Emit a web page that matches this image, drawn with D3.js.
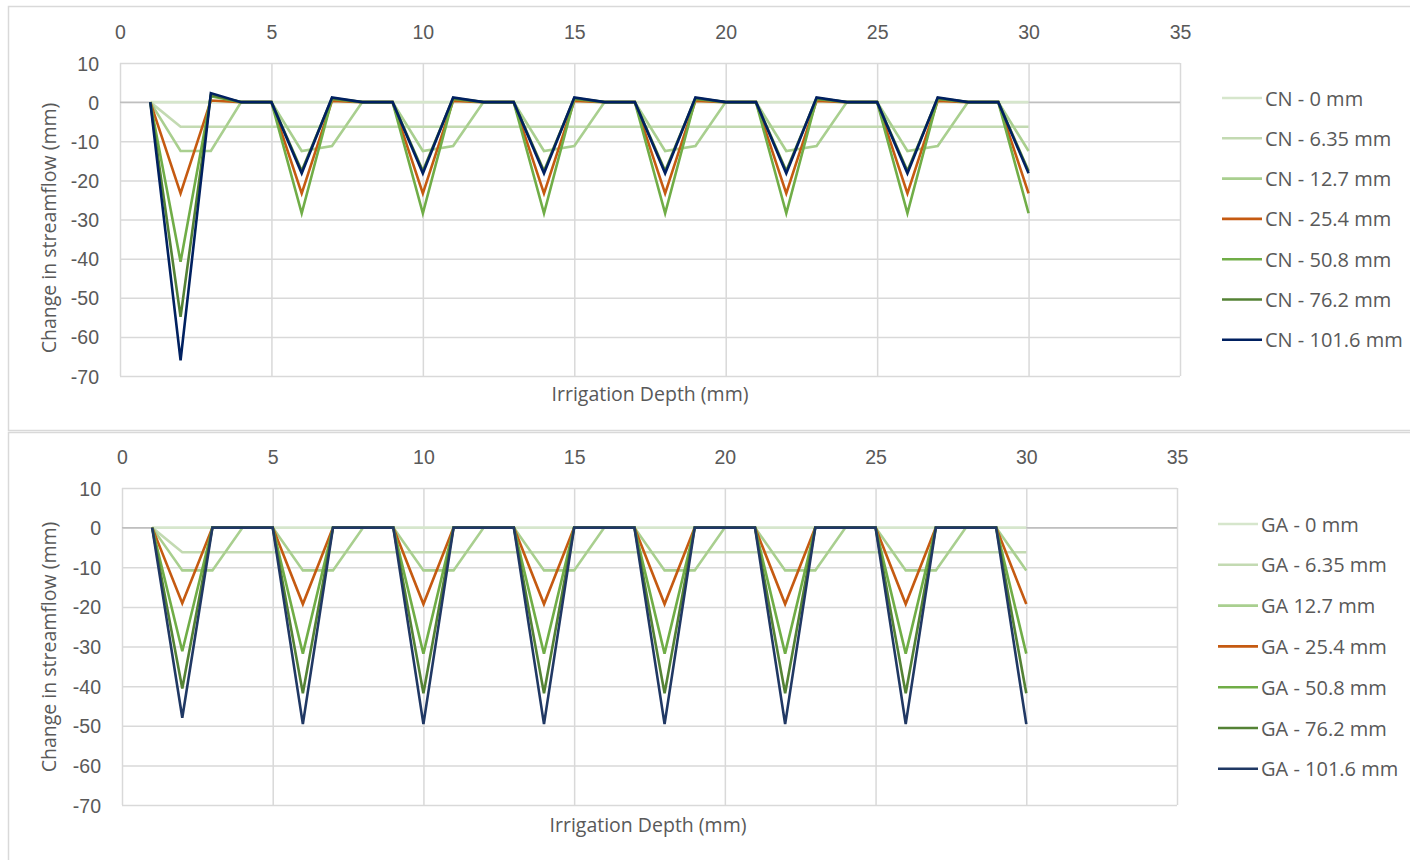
<!DOCTYPE html>
<html>
<head>
<meta charset="utf-8">
<script src="https://cdn.jsdelivr.net/npm/d3@7"></script>
<style>
  body { margin: 0; background: #fff; }
  svg { display: block; font-family: "Open Sans", "Noto Sans", sans-serif; }
</style>
</head>
<body>
<svg></svg>
<script>
// irrigation events 1..30
let depths = [1, 2, 3, 4, 5, 6, 7, 8, 9, 10, 11, 12, 13, 14, 15, 16, 17, 18, 19, 20, 21, 22, 23, 24, 25, 26, 27, 28, 29, 30]
let xTicks = [0, 5, 10, 15, 20, 25, 30, 35]
let yTicks = [10, 0, -10, -20, -30, -40, -50, -60, -70]

let cnNames = ['CN - 0 mm', 'CN - 6.35 mm', 'CN - 12.7 mm', 'CN - 25.4 mm', 'CN - 50.8 mm', 'CN - 76.2 mm', 'CN - 101.6 mm']
let cn0 = [0, 0, 0, 0, 0, 0, 0, 0, 0, 0, 0, 0, 0, 0, 0, 0, 0, 0, 0, 0, 0, 0, 0, 0, 0, 0, 0, 0, 0, 0]
let cn635 = [0, -6.3, -6.3, -6.3, -6.3, -6.3, -6.3, -6.3, -6.3, -6.3, -6.3, -6.3, -6.3, -6.3, -6.3, -6.3, -6.3, -6.3, -6.3, -6.3, -6.3, -6.3, -6.3, -6.3, -6.3, -6.3, -6.3, -6.3, -6.3, -6.3]
let cn127 = [0, -12.5, -12.5, 0, 0, -12.5, -11.2, 0, 0, -12.5, -11.2, 0, 0, -12.5, -11.2, 0, 0, -12.5, -11.2, 0, 0, -12.5, -11.2, 0, 0, -12.5, -11.2, 0, 0, -12.5]
let cn254 = [0, -23.3, 0.4, 0, 0, -23.3, 0.3, 0, 0, -23.3, 0.3, 0, 0, -23.3, 0.3, 0, 0, -23.3, 0.3, 0, 0, -23.3, 0.3, 0, 0, -23.3, 0.3, 0, 0, -23.3]
let cn508 = [0, -40.8, 1.5, 0, 0, -28.4, 0.8, 0, 0, -28.4, 0.8, 0, 0, -28.4, 0.8, 0, 0, -28.4, 0.8, 0, 0, -28.4, 0.8, 0, 0, -28.4, 0.8, 0, 0, -28.4]
let cn762 = [0, -54.9, 1.8, 0, 0, -17.6, 1.0, 0, 0, -17.6, 1.0, 0, 0, -17.6, 1.0, 0, 0, -17.6, 1.0, 0, 0, -17.6, 1.0, 0, 0, -17.6, 1.0, 0, 0, -17.6]
let cn1016 = [0, -66.0, 2.3, 0, 0, -18.2, 1.2, 0, 0, -18.2, 1.2, 0, 0, -18.2, 1.2, 0, 0, -18.2, 1.2, 0, 0, -18.2, 1.2, 0, 0, -18.2, 1.2, 0, 0, -18.2]

let gaNames = ['GA - 0 mm', 'GA - 6.35 mm', 'GA 12.7 mm', 'GA - 25.4 mm', 'GA - 50.8 mm', 'GA - 76.2 mm', 'GA - 101.6 mm']
let ga0 = [0, 0, 0, 0, 0, 0, 0, 0, 0, 0, 0, 0, 0, 0, 0, 0, 0, 0, 0, 0, 0, 0, 0, 0, 0, 0, 0, 0, 0, 0]
let ga635 = [0, -6.2, -6.2, -6.2, -6.2, -6.2, -6.2, -6.2, -6.2, -6.2, -6.2, -6.2, -6.2, -6.2, -6.2, -6.2, -6.2, -6.2, -6.2, -6.2, -6.2, -6.2, -6.2, -6.2, -6.2, -6.2, -6.2, -6.2, -6.2, -6.2]
let ga127 = [0, -10.8, -10.8, 0, 0, -10.8, -10.8, 0, 0, -10.8, -10.8, 0, 0, -10.8, -10.8, 0, 0, -10.8, -10.8, 0, 0, -10.8, -10.8, 0, 0, -10.8, -10.8, 0, 0, -10.8]
let ga254 = [0, -19.1, 0, 0, 0, -19.3, 0, 0, 0, -19.3, 0, 0, 0, -19.3, 0, 0, 0, -19.3, 0, 0, 0, -19.3, 0, 0, 0, -19.3, 0, 0, 0, -19.3]
let ga508 = [0, -31.2, 0, 0, 0, -31.8, 0, 0, 0, -31.8, 0, 0, 0, -31.8, 0, 0, 0, -31.8, 0, 0, 0, -31.8, 0, 0, 0, -31.8, 0, 0, 0, -31.8]
let ga762 = [0, -40.6, 0, 0, 0, -41.8, 0, 0, 0, -41.8, 0, 0, 0, -41.8, 0, 0, 0, -41.8, 0, 0, 0, -41.8, 0, 0, 0, -41.8, 0, 0, 0, -41.8]
let ga1016 = [0, -48.0, 0, 0, 0, -49.6, 0, 0, 0, -49.6, 0, 0, 0, -49.6, 0, 0, 0, -49.6, 0, 0, 0, -49.6, 0, 0, 0, -49.6, 0, 0, 0, -49.6]

let cnColors = ['#d6e6cc', '#c3dab2', '#a9cf8f', '#c55a11', '#70ad47', '#548235', '#002060']
let gaColors = ['#d6e6cc', '#c3dab2', '#a9cf8f', '#c55a11', '#70ad47', '#548235', '#203864']

let width = 1410
let height = 860
let svg = d3.select('svg')
let textColor = '#595959'
let gridColor = '#d9d9d9'
let fontSize = '19.5px'

let drawCanvas = () => {
    svg.attr('width', width)
    svg.attr('height', height)
    svg.append('rect')
        .attr('x', 8.5).attr('y', 6.5)
        .attr('width', width).attr('height', 424)
        .attr('fill', 'none').attr('stroke', gridColor).attr('stroke-width', 1.5)
    svg.append('rect')
        .attr('x', 8.5).attr('y', 432.5)
        .attr('width', width).attr('height', 440)
        .attr('fill', 'none').attr('stroke', gridColor).attr('stroke-width', 1.5)
}

let drawPanel = (cfg) => {
    let xScale = d3.scaleLinear().domain([0, 35]).range([cfg.left, cfg.right])
    let yScale = d3.scaleLinear().domain([-70, 10]).range([cfg.bottom, cfg.top])
    let g = svg.append('g')

    // gridlines
    g.append('g')
        .attr('transform', 'translate(0,' + cfg.bottom + ')')
        .call(d3.axisBottom(xScale).tickValues(xTicks).tickSize(-(cfg.bottom - cfg.top)).tickFormat(''))
        .call(a => a.select('.domain').remove())
        .selectAll('line').attr('stroke', gridColor).attr('stroke-width', 1.5)
    g.append('g')
        .attr('transform', 'translate(' + cfg.left + ',0)')
        .call(d3.axisLeft(yScale).tickValues(yTicks).tickSize(-(cfg.right - cfg.left)).tickFormat(''))
        .call(a => a.select('.domain').remove())
        .selectAll('line').attr('stroke', gridColor).attr('stroke-width', 1.5)

    // horizontal axis line at zero
    g.append('line')
        .attr('x1', cfg.left).attr('x2', cfg.right)
        .attr('y1', yScale(0)).attr('y2', yScale(0))
        .attr('stroke', '#bfbfbf').attr('stroke-width', 1.5)

    // tick labels (plain hyphen like the original)
    let xAxis = g.append('g')
        .attr('transform', 'translate(0,' + cfg.xLabelY + ')')
        .call(d3.axisTop(xScale).tickValues(xTicks).tickSize(0).tickPadding(0).tickFormat(d => String(d)))
    xAxis.select('.domain').remove()
    xAxis.selectAll('text').attr('fill', textColor).style('font-size', fontSize)
        .attr('dominant-baseline', 'central').attr('dy', null)

    let yAxis = g.append('g')
        .attr('transform', 'translate(' + (cfg.left - 21) + ',0)')
        .call(d3.axisLeft(yScale).tickValues(yTicks).tickSize(0).tickPadding(0).tickFormat(d => String(d)))
    yAxis.select('.domain').remove()
    yAxis.selectAll('text').attr('fill', textColor).style('font-size', fontSize)
        .attr('dominant-baseline', 'central').attr('dy', null)

    // series
    let line = d3.line()
        .x((d, i) => xScale(depths[i]))
        .y((d) => yScale(d))
    cfg.series.forEach((s, i) => {
        g.append('path')
            .datum(s)
            .attr('d', line)
            .attr('fill', 'none')
            .attr('stroke', cfg.colors[i])
            .attr('stroke-width', 2.6)
            .attr('stroke-linejoin', 'miter')
    })

    // axis titles
    g.append('text')
        .attr('x', cfg.xTitleX)
        .attr('y', cfg.xTitleY)
        .attr('text-anchor', 'middle')
        .attr('dominant-baseline', 'central')
        .attr('fill', textColor)
        .style('font-size', fontSize)
        .text('Irrigation Depth (mm)')
    g.append('text')
        .attr('transform', 'translate(48,' + cfg.yTitleY + ') rotate(-90)')
        .attr('text-anchor', 'middle')
        .attr('dominant-baseline', 'central')
        .attr('fill', textColor)
        .style('font-size', fontSize)
        .text('Change in streamflow (mm)')

    // legend
    cfg.names.forEach((name, i) => {
        let y = cfg.legendY + i * cfg.legendStep
        g.append('line')
            .attr('x1', cfg.legendX).attr('x2', cfg.legendX + 40)
            .attr('y1', y).attr('y2', y)
            .attr('stroke', cfg.colors[i]).attr('stroke-width', 2.6)
        g.append('text')
            .attr('x', cfg.legendX + 43)
            .attr('y', y)
            .attr('dominant-baseline', 'central')
            .attr('fill', textColor)
            .style('font-size', '20px')
            .text(name)
    })
}

drawCanvas()
drawPanel({
    left: 120, right: 1180, top: 63, bottom: 376,
    xLabelY: 32, xTitleX: 650, xTitleY: 393, yTitleY: 228,
    series: [cn0, cn635, cn127, cn254, cn508, cn762, cn1016],
    names: cnNames, colors: cnColors,
    legendX: 1222, legendY: 98, legendStep: 40.3
})
drawPanel({
    left: 122, right: 1177, top: 488, bottom: 805,
    xLabelY: 457, xTitleX: 648, xTitleY: 824, yTitleY: 647,
    series: [ga0, ga635, ga127, ga254, ga508, ga762, ga1016],
    names: gaNames, colors: gaColors,
    legendX: 1218, legendY: 524, legendStep: 40.8
})
</script>
</body>
</html>
